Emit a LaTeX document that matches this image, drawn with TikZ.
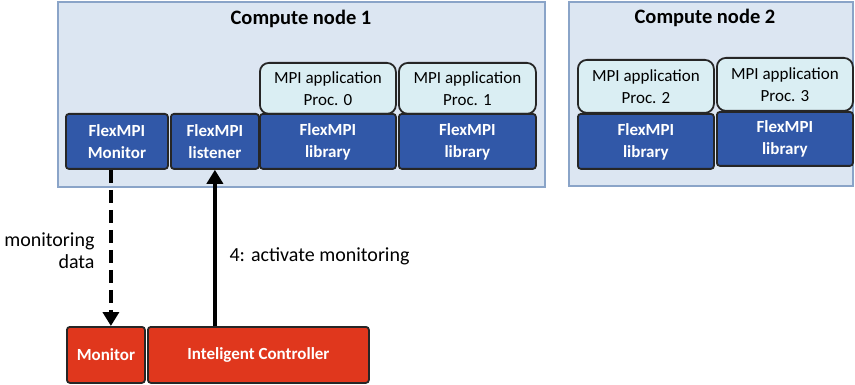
\documentclass[tikz,border=0pt]{standalone}
\usepackage{fontspec}
\setmainfont{Carlito}
\usetikzlibrary{arrows.meta,calc}
\definecolor{cnfill}{HTML}{DCE6F2}
\definecolor{cnline}{HTML}{8AA4C8}
\definecolor{appfill}{HTML}{DAEEF3}
\definecolor{libfill}{HTML}{3158A8}
\definecolor{redfill}{HTML}{E0371D}
\tikzset{
  cnbox/.style={draw=cnline, fill=cnfill, line width=1.2pt},
  appbox/.style={draw=black!85, fill=appfill, line width=1.8pt, rounded corners=9pt, inner sep=0pt, align=center, font=\fontsize{17}{22}\selectfont},
  libbox/.style={draw=black!85, fill=libfill, line width=1.8pt, rounded corners=3pt, inner sep=0pt, align=center, text=white, font=\bfseries\fontsize{17}{22}\selectfont},
  redbox/.style={draw=black!85, fill=redfill, line width=1.8pt, rounded corners=3pt, inner sep=0pt, align=center, text=white, font=\bfseries\fontsize{17}{20}\selectfont},
  title/.style={font=\bfseries\fontsize{20.5}{24}\selectfont},
  lbl/.style={font=\fontsize{20}{22}\selectfont},
  arr/.style={line width=4pt, -{Triangle[length=14pt,width=16pt]}}
}
\begin{document}
\begin{tikzpicture}[x=1pt,y=-1pt]
\useasboundingbox (0,0) rectangle (855,385);
% compute node boxes
\draw[cnbox] (58,2) rectangle (545,187);
\draw[cnbox] (569,2) rectangle (853,186);
\node[title] (t1) at (301,19) {Compute node 1};
\node[title] (t2) at (705,18) {Compute node 2};
% app boxes
\node[appbox, minimum width=136pt, minimum height=51pt, anchor=north west] (a0) at (259,62) {MPI application\\Proc. 0};
\node[appbox, minimum width=137pt, minimum height=51pt, anchor=north west] (a1) at (398,62) {MPI application\\Proc. 1};
\node[appbox, minimum width=136pt, minimum height=53pt, anchor=north west] (a2) at (577,59) {MPI application\\Proc. 2};
\node[appbox, minimum width=136pt, minimum height=53pt, anchor=north west] (a3) at (716,57) {MPI application\\Proc. 3};
% library row
\node[libbox, minimum width=102pt, minimum height=55pt, anchor=north west] (fmon) at (65,113) {FlexMPI\\Monitor};
\node[libbox, minimum width=88pt, minimum height=55pt, anchor=north west] (lis) at (170,113) {FlexMPI\\listener};
\node[libbox, minimum width=136pt, minimum height=55pt, anchor=north west] (l0) at (259,113) {FlexMPI\\library};
\node[libbox, minimum width=137pt, minimum height=55pt, anchor=north west] (l1) at (398,113) {FlexMPI\\library};
\node[libbox, minimum width=136pt, minimum height=55pt, anchor=north west] (l2) at (577,113) {FlexMPI\\library};
\node[libbox, minimum width=136pt, minimum height=54pt, anchor=north west] (l3) at (716,111) {FlexMPI\\library};
% bottom boxes
\node[redbox, minimum width=78pt, minimum height=56pt, anchor=north west] (mon) at (66,326) {Monitor};
\node[redbox, minimum width=221pt, minimum height=56pt, anchor=north west] (ctrl) at (147,326) {Inteligent Controller};
% arrows
\draw[arr, dashed, dash pattern=on 13pt off 7pt] ($(fmon.south)+(-6,0)$) -- ($(mon.north)+(5,0)$);
\draw[arr] (ctrl.north -| lis.south) -- (lis.south);
% labels
\node[lbl, align=right, anchor=east] (md) at (98,251) {monitoring\\data};
\node[lbl, anchor=west] (am) at (226,256) {4: activate monitoring};
\end{tikzpicture}
\end{document}
